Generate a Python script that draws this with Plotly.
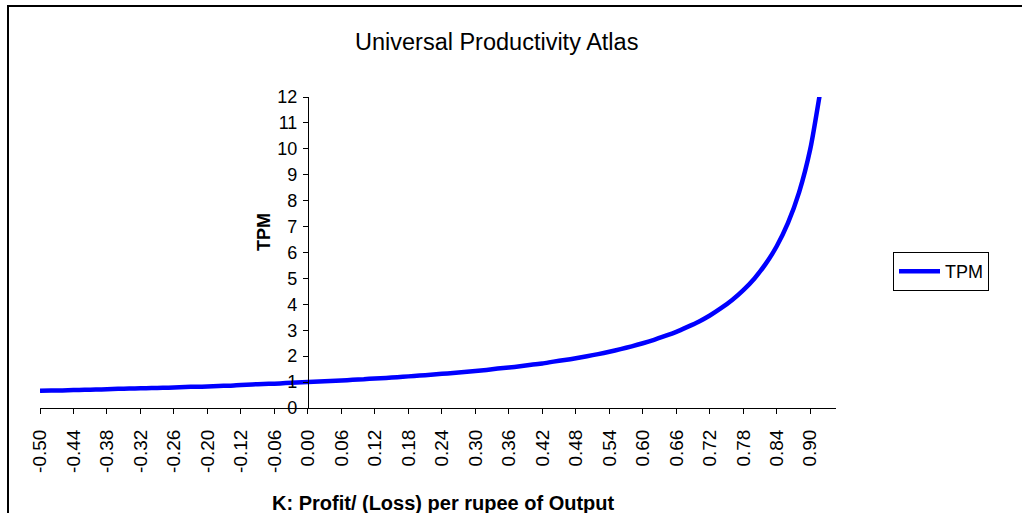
import plotly.graph_objects as go

# ---- data ----
k_labels = ["-0.50", "-0.48", "-0.46", "-0.44", "-0.42", "-0.40", "-0.38", "-0.36",
            "-0.34", "-0.32", "-0.30", "-0.28", "-0.26", "-0.24", "-0.22", "-0.20",
            "-0.18", "-0.16", "-0.12", "-0.10", "-0.08", "-0.06", "-0.04", "-0.02",
            "0.00", "0.02", "0.04", "0.06", "0.08", "0.10", "0.12", "0.14", "0.16",
            "0.18", "0.20", "0.22", "0.24", "0.26", "0.28", "0.30", "0.32", "0.34",
            "0.36", "0.38", "0.40", "0.42", "0.44", "0.46", "0.48", "0.50", "0.52",
            "0.54", "0.56", "0.58", "0.60", "0.62", "0.64", "0.66", "0.68", "0.70",
            "0.72", "0.74", "0.76", "0.78", "0.80", "0.82", "0.84", "0.86", "0.88",
            "0.90", "0.92"]
tpm = [0.67, 0.68, 0.68, 0.69, 0.70, 0.71, 0.72, 0.74,
       0.75, 0.76, 0.77, 0.78, 0.79, 0.81, 0.82, 0.83,
       0.85, 0.86, 0.89, 0.91, 0.93, 0.94, 0.96, 0.98,
       1.00, 1.02, 1.04, 1.06, 1.09, 1.11, 1.14, 1.16, 1.19,
       1.22, 1.25, 1.28, 1.32, 1.35, 1.39, 1.43, 1.47, 1.52,
       1.56, 1.61, 1.67, 1.72, 1.79, 1.85, 1.92, 2.00, 2.08,
       2.17, 2.27, 2.38, 2.50, 2.63, 2.78, 2.94, 3.13, 3.33,
       3.57, 3.85, 4.17, 4.55, 5.00, 5.56, 6.25, 7.14, 8.33,
       10.00, 12.50]
tick_labels = k_labels[::3]
y_ticks = list(range(0, 13))

title_text = "Universal Productivity Atlas"
x_title = "K: Profit/ (Loss) per rupee of Output"
y_title = "TPM"
series_name = "TPM"

# ---- layout geometry ----
W, H = 1022, 513
ML, MR, MT, MB = 40, 186, 97, 105
PW, PH = W - ML - MR, H - MT - MB
x_end = 71.3
y_axis_pos = k_labels.index("0.00") / x_end

def px_x(p):
    return (p - ML) / PW

def px_y(p):
    return (H - MB - p) / PH

FONT = "Arial, Liberation Sans, sans-serif"

fig = go.Figure()
fig.add_trace(go.Scatter(
    x=k_labels, y=tpm, mode="lines", name=series_name,
    line=dict(color="#0000FF", width=4.5, shape="spline", smoothing=0.6),
    showlegend=True,
))

fig.update_layout(
    width=W, height=H,
    margin=dict(l=ML, r=MR, t=MT, b=MB),
    paper_bgcolor="white", plot_bgcolor="white",
    font=dict(family=FONT, color="black", size=18),
    title=dict(text=title_text, x=0.486, y=1 - 42 / H, xanchor="center",
               yanchor="middle", font=dict(size=23.5, family=FONT)),
    xaxis=dict(type="category", categoryorder="array", categoryarray=k_labels,
               range=[0, x_end], showgrid=False, zeroline=False,
               showline=True, linecolor="black", linewidth=1,
               ticks="outside", ticklen=5, tickcolor="black",
               tickvals=tick_labels, ticktext=tick_labels, tickangle=-90,
               tickfont=dict(size=19), ticklabelstandoff=8),
    yaxis=dict(range=[0, 12], tickvals=y_ticks, showgrid=False, zeroline=False,
               showline=True, linecolor="black", linewidth=1,
               ticks="outside", ticklen=5, tickcolor="black",
               tickfont=dict(size=18), anchor="free", position=y_axis_pos,
               ticklabelstandoff=2),
    legend=dict(x=px_x(893), y=px_y(252), xanchor="left", yanchor="top",
                bordercolor="black", borderwidth=1, bgcolor="white",
                font=dict(size=18), itemwidth=41),
    showlegend=True,
)

fig.add_annotation(text="<b>" + x_title + "</b>", xref="paper", yref="paper",
                   x=px_x(443), y=px_y(490), xanchor="center", yanchor="top",
                   showarrow=False, font=dict(size=20))
fig.add_annotation(text="<b>" + y_title + "</b>", xref="paper", yref="paper",
                   x=px_x(264), y=px_y(232), xanchor="center", yanchor="middle",
                   textangle=-90, showarrow=False, font=dict(size=18))

# outer chart border (left and top visible, continues past the image)
fig.add_shape(type="rect", xref="paper", yref="paper",
              x0=px_x(8), x1=px_x(W + 20), y0=px_y(H + 20), y1=px_y(6),
              line=dict(color="black", width=2), fillcolor="rgba(0,0,0,0)")

fig.write_html("out.html",
               config={"displayModeBar": False},
               post_script="document.body.style.margin='0px';"
                           "document.body.style.overflow='hidden';")
